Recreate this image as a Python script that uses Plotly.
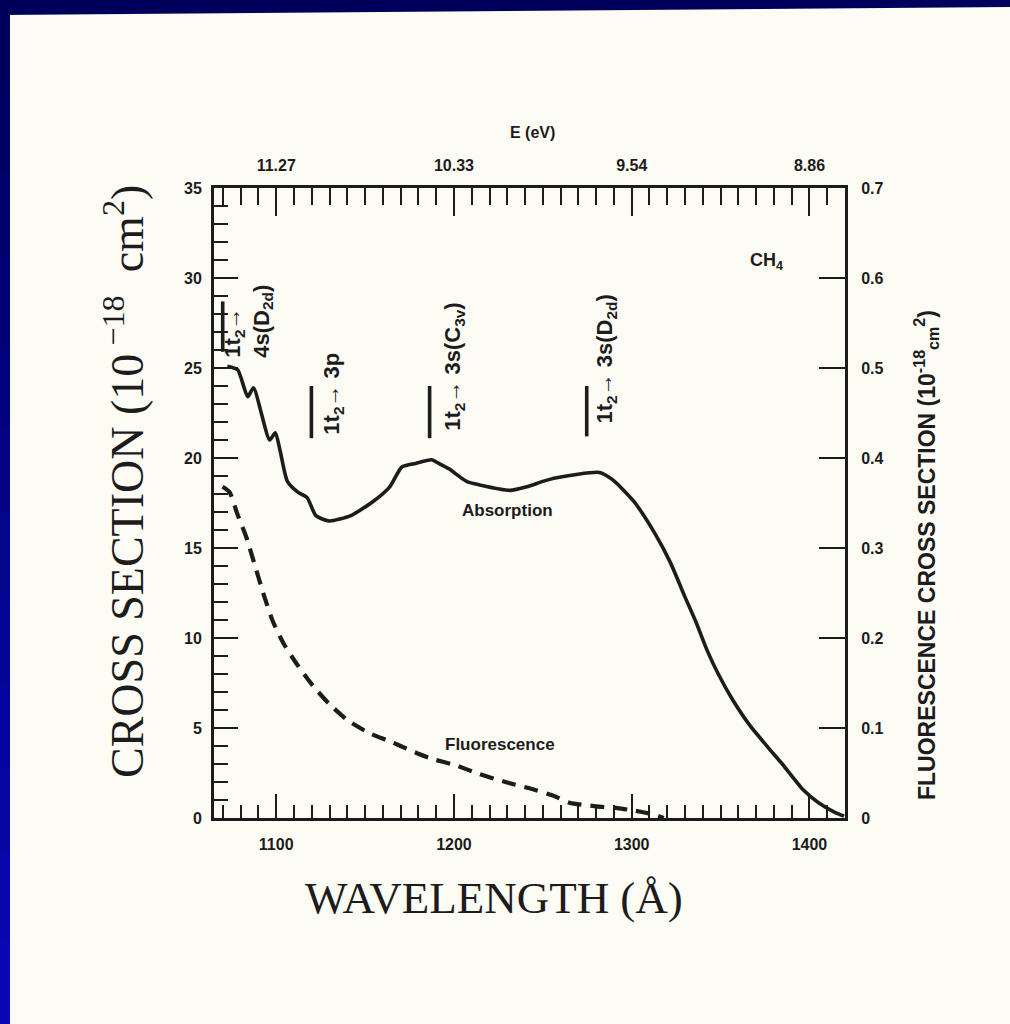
import plotly.graph_objects as go

# ---------------- data ----------------
# Absorption cross section of CH4, units 1e-18 cm^2 (left axis)
wl_abs = [1072.5, 1078.3, 1084.0, 1087.2, 1096.3, 1099.5, 1102.2, 1106.3, 1112.2,
          1117.4, 1122.3, 1129.8, 1142.0, 1154.7, 1163.9, 1170.7, 1178.5, 1187.4,
          1191.5, 1197.2, 1207.1, 1214.5, 1231.5, 1241.0, 1250.0, 1257.7, 1281.8,
          1289.2, 1301.1, 1313.1, 1321.7, 1329.9, 1336.1, 1342.5, 1348.7, 1356.6,
          1366.8, 1376.9, 1384.7, 1396.6, 1405.3, 1414.0, 1419.5]
sig_abs = [25.1, 24.9, 23.4, 23.9, 21.0, 21.4, 20.4, 18.7, 18.1,
           17.8, 16.8, 16.5, 16.8, 17.6, 18.4, 19.5, 19.7, 19.9,
           19.7, 19.4, 18.7, 18.5, 18.2, 18.4, 18.7, 18.9, 19.2,
           18.8, 17.6, 15.8, 14.2, 12.3, 10.9, 9.3, 8.0, 6.6,
           5.1, 3.9, 3.0, 1.55, 0.83, 0.33, 0.1]

# Fluorescence cross section, units 1e-18 cm^2 (right axis)
wl_flu = [1069.8, 1073.8, 1078.1, 1083.2, 1087.8, 1093.0, 1098.2, 1104.4, 1112.3,
          1120.6, 1130.2, 1140.6, 1152.7, 1164.2, 1175.7, 1187.1, 1200.3, 1214.0,
          1228.9, 1242.5, 1255.7, 1265.0, 1280.0, 1292.0, 1302.0, 1312.0, 1318.0]
sig_flu = [0.368, 0.362, 0.338, 0.312, 0.282, 0.248, 0.218, 0.193, 0.169,
           0.147, 0.126, 0.108, 0.094, 0.085, 0.075, 0.066, 0.059, 0.049,
           0.040, 0.033, 0.025, 0.017, 0.013, 0.011, 0.008, 0.004, 0.0]

# Axis ticks
wl_range = [1065, 1420]
bottom_tick_vals = [1100, 1200, 1300, 1400]
bottom_tick_text = ["1100", "1200", "1300", "1400"]
top_tick_text = ["11.27", "10.33", "9.54", "8.86"]          # E (eV) at the same wavelengths
left_tick_vals = [0, 5, 10, 15, 20, 25, 30, 35]
right_tick_vals = [0, 0.1, 0.2, 0.3, 0.4, 0.5, 0.6, 0.7]
right_tick_text = ["0", "0.1", "0.2", "0.3", "0.4", "0.5", "0.6", "0.7"]

# Transition markers (wavelength, bar bottom, bar top) and their labels
trans_wl = [1069.9, 1119.8, 1186.3, 1274.7]
trans_lo = [25.9, 21.1, 21.1, 21.2]
trans_hi = [28.7, 24.0, 24.0, 24.0]
trans_text = ["1t<sub>2</sub>→<br>4s(D<sub>2d</sub>)",
              "1t<sub>2</sub>→ 3p",
              "1t<sub>2</sub>→ 3s(C<sub>3v</sub>)",
              "1t<sub>2</sub>→ 3s(D<sub>2d</sub>)"]
trans_lab_x = [1084.4, 1132.2, 1200.3, 1285.8]
trans_lab_y = [27.6, 23.6, 25.1, 25.5]

# ---------------- style ----------------
W, H = 1010, 1024
L, R, T, B = 214, 845, 188, 818
INK = "#1c1c1c"
PAPER = "#fcfbf4"
SANS = "Liberation Sans"
SERIF = "Liberation Serif"


def px(xp):
    return (xp - L) / (R - L)


def py(yp):
    return (B - yp) / (B - T)


fig = go.Figure()

fig.add_trace(go.Scatter(
    x=wl_abs, y=sig_abs, xaxis="x2", yaxis="y", mode="lines",
    line=dict(color=INK, width=3.6, shape="spline", smoothing=0.6),
    hoverinfo="skip", name="Absorption"))

fig.add_trace(go.Scatter(
    x=wl_flu, y=sig_flu, xaxis="x", yaxis="y2", mode="lines",
    line=dict(color=INK, width=4.2, dash="14px,9px", shape="spline", smoothing=0.6),
    hoverinfo="skip", name="Fluorescence"))

for w, lo, hi in zip(trans_wl, trans_lo, trans_hi):
    fig.add_trace(go.Scatter(
        x=[w, w], y=[lo, hi], xaxis="x", yaxis="y", mode="lines",
        line=dict(color=INK, width=3.6), hoverinfo="skip"))

tickfont = dict(family=SANS, size=16, color=INK, weight="bold")
axis_common = dict(showline=True, linecolor=INK, linewidth=3, showgrid=False,
                   zeroline=False, ticks="inside", tickcolor=INK, tickwidth=2.4,
                   tickfont=tickfont)

fig.update_layout(
    width=W, height=H,
    margin=dict(l=L, r=W - R, t=T, b=H - B, autoexpand=False),
    paper_bgcolor=PAPER, plot_bgcolor=PAPER, showlegend=False,
    xaxis=dict(range=wl_range, tickvals=bottom_tick_vals, ticktext=bottom_tick_text,
               ticklen=24, ticklabelstandoff=10, anchor="y",
               minor=dict(ticks="inside", dtick=10, tick0=1100, ticklen=13,
                          tickwidth=2.2, tickcolor=INK, showgrid=False),
               **axis_common),
    xaxis2=dict(range=wl_range, overlaying="x", side="top", anchor="y",
                tickvals=bottom_tick_vals, ticktext=top_tick_text,
                ticklen=28, ticklabelstandoff=8,
                minor=dict(ticks="inside", dtick=10, tick0=1100, ticklen=17,
                           tickwidth=2.2, tickcolor=INK, showgrid=False),
                **axis_common),
    yaxis=dict(range=[0, 35], tickvals=left_tick_vals, ticklen=24,
               ticklabelstandoff=6, anchor="x",
               minor=dict(ticks="inside", dtick=1, tick0=0, ticklen=14,
                          tickwidth=2.2, tickcolor=INK, showgrid=False),
               **axis_common),
    yaxis2=dict(range=[0, 0.7], overlaying="y", side="right", anchor="x",
                tickvals=right_tick_vals, ticktext=right_tick_text,
                ticklen=26, ticklabelstandoff=10, **axis_common),
)

ann = []
# transition labels
for t, x, y in zip(trans_text, trans_lab_x, trans_lab_y):
    ann.append(dict(x=x, y=y, xref="x", yref="y", text="<b>" + t + "</b>",
                    textangle=-90, showarrow=False, align="left",
                    xanchor="center", yanchor="middle",
                    font=dict(family=SANS, size=22, color=INK)))
ann.append(dict(x=1230.3, y=17.1, xref="x", yref="y", text="<b>Absorption</b>",
                showarrow=False, xanchor="center", yanchor="middle",
                font=dict(family=SANS, size=17, color=INK)))
ann.append(dict(x=1226, y=4.1, xref="x", yref="y", text="<b>Fluorescence</b>",
                showarrow=False, xanchor="center", yanchor="middle",
                font=dict(family=SANS, size=17, color=INK)))
ann.append(dict(x=1376, y=30.9, xref="x", yref="y", text="<b>CH<sub>4</sub></b>",
                showarrow=False, xanchor="center", yanchor="middle",
                font=dict(family=SANS, size=18, color=INK)))
# axis titles
ann.append(dict(x=px(124), y=py(482), xref="paper", yref="paper",
                xanchor="center", yanchor="middle",
                text="CROSS SECTION (10<sup> −18</sup>  cm<sup>2</sup>)", textangle=-90,
                showarrow=False, font=dict(family=SERIF, size=46, color=INK)))
ann.append(dict(x=px(494), y=py(898), xref="paper", yref="paper",
                xanchor="center", yanchor="middle",
                text="WAVELENGTH (Å)", showarrow=False,
                font=dict(family=SERIF, size=45, color=INK)))
ann.append(dict(x=px(926), y=py(555), xref="paper", yref="paper",
                xanchor="center", yanchor="middle",
                text="<b>FLUORESCENCE CROSS SECTION (10<sup>-18</sup><sub>cm</sub><sup>2</sup>)</b>",
                textangle=-90, showarrow=False,
                font=dict(family=SANS, size=23, color=INK)))
ann.append(dict(x=px(532), y=py(132), xref="paper", yref="paper",
                xanchor="center", yanchor="middle",
                text="<b>E (eV)</b>", showarrow=False,
                font=dict(family=SANS, size=16, color=INK)))
fig.update_layout(annotations=ann)

# slide frame (navy bands on the left and top)
shapes = []
n = 12
for i in range(n):
    f = i / (n - 1)
    r_, g_, b_ = int(0 + 8 * f), int(0 + 8 * f), int(92 + 90 * f)
    shapes.append(dict(type="rect", xref="paper", yref="paper", layer="above",
                       x0=px(0), x1=px(10), y0=py(1024 * (i + 1) / n + 1),
                       y1=py(1024 * i / n), line=dict(width=0),
                       fillcolor=f"rgb({r_},{g_},{b_})"))
shapes.append(dict(type="path", xref="paper", yref="paper", layer="above",
                   path=f"M {px(0)} {py(0)} L {px(1010)} {py(0)} L {px(1010)} {py(7)} L {px(0)} {py(15)} Z",
                   line=dict(width=0), fillcolor="#00005c"))
fig.update_layout(shapes=shapes)

fig.write_html("out.html")
